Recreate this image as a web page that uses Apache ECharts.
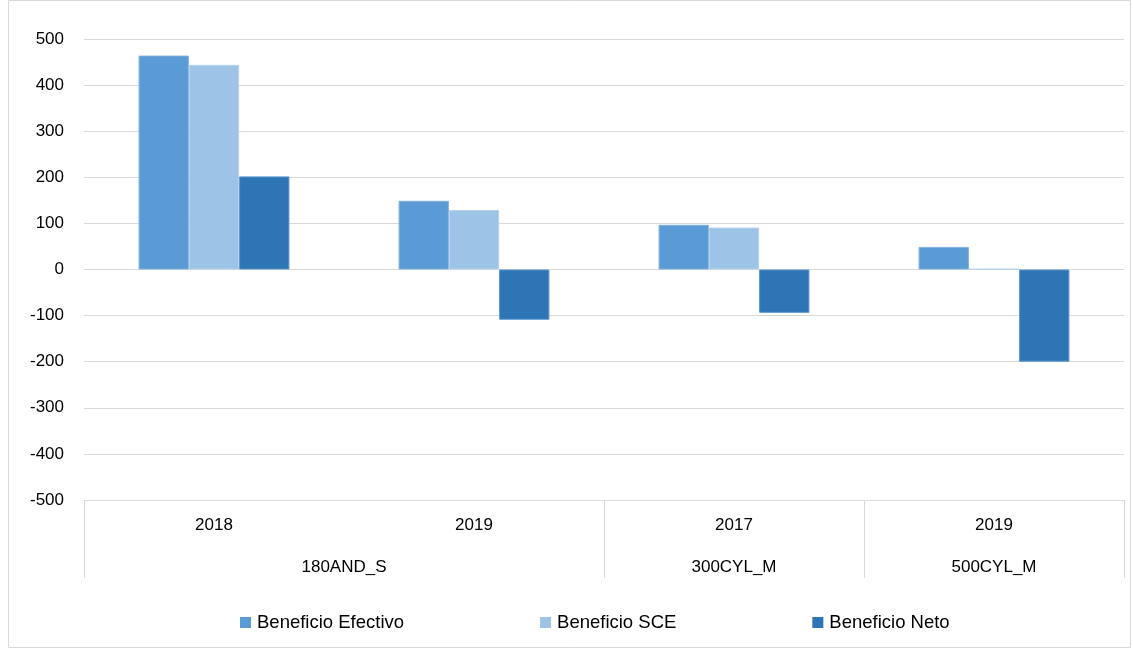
<!DOCTYPE html>
<html>
<head>
<meta charset="utf-8">
<script src="https://cdn.jsdelivr.net/npm/echarts@6/dist/echarts.min.js"></script>
<style>html,body{margin:0;padding:0;background:#fff}#c{width:1133px;height:651px}</style>
</head>
<body>
<div id="c"></div>
<script>
const years = ['2018', '2019', '2017', '2019'];
const groupSlots = ['', '', '180AND_S', '', '', '300CYL_M', '', '500CYL_M', ''];
const groupBoundaries = [0, 4, 6, 8];
const efectivo = [464, 149, 97, 49];
const sce = [444, 129, 91, 1];
const neto = [202, -109, -94, -200];
const yTicks = { min: -500, max: 500, interval: 100 };

const font = 'Liberation Sans, Arial, sans-serif';
const chart = echarts.init(document.getElementById('c'));
chart.setOption({
  animation: false,
  backgroundColor: '#fff',
  graphic: [{ type: 'rect', shape: { x: 8.5, y: 0.5, width: 1122, height: 647 }, style: { fill: 'none', stroke: '#d9d9d9', lineWidth: 1 }, silent: true }],
  grid: { left: 84, right: 9, top: 39, bottom: 151, containLabel: false },
  legend: {
    left: 235, top: 608, itemWidth: 11, itemHeight: 11, itemGap: 136, icon: 'rect',
    itemStyle: { borderWidth: 0 },
    textStyle: { fontFamily: font, fontSize: 18.5, color: '#000', padding: [0, 0, 0, 1] },
    data: ['Beneficio Efectivo', 'Beneficio SCE', 'Beneficio Neto']
  },
  xAxis: [{
    type: 'category', data: years, position: 'bottom',
    axisLine: { show: false }, axisTick: { show: false },
    axisLabel: { fontFamily: font, fontSize: 17, color: '#000', margin: 17 }
  }, {
    type: 'category', data: groupSlots, position: 'bottom', offset: 78, boundaryGap: false,
    axisLine: { show: false },
    axisTick: { show: true, inside: true, length: 78, lineStyle: { color: '#d9d9d9' }, interval: (i) => groupBoundaries.includes(i) },
    axisLabel: { fontFamily: font, fontSize: 17, color: '#000', margin: -19, interval: (i, v) => v !== '' }
  }],
  yAxis: {
    type: 'value', min: yTicks.min, max: yTicks.max, interval: yTicks.interval,
    axisLine: { show: false }, axisTick: { show: false },
    axisLabel: { fontFamily: font, fontSize: 17, color: '#000', margin: 20 },
    splitLine: { lineStyle: { color: '#d9d9d9' } }
  },
  series: [
    { name: 'Beneficio Efectivo', type: 'bar', data: efectivo, barGap: '0%', barCategoryGap: '42%', itemStyle: { color: '#5B9BD5', borderColor: '#7fb0e0', borderWidth: 1 } },
    { name: 'Beneficio SCE', type: 'bar', data: sce, itemStyle: { color: '#9DC3E6', borderColor: '#b5d2ee', borderWidth: 1 } },
    { name: 'Beneficio Neto', type: 'bar', data: neto, itemStyle: { color: '#2E75B6', borderColor: '#5a94cc', borderWidth: 1 } }
  ]
});
</script>
</body>
</html>
